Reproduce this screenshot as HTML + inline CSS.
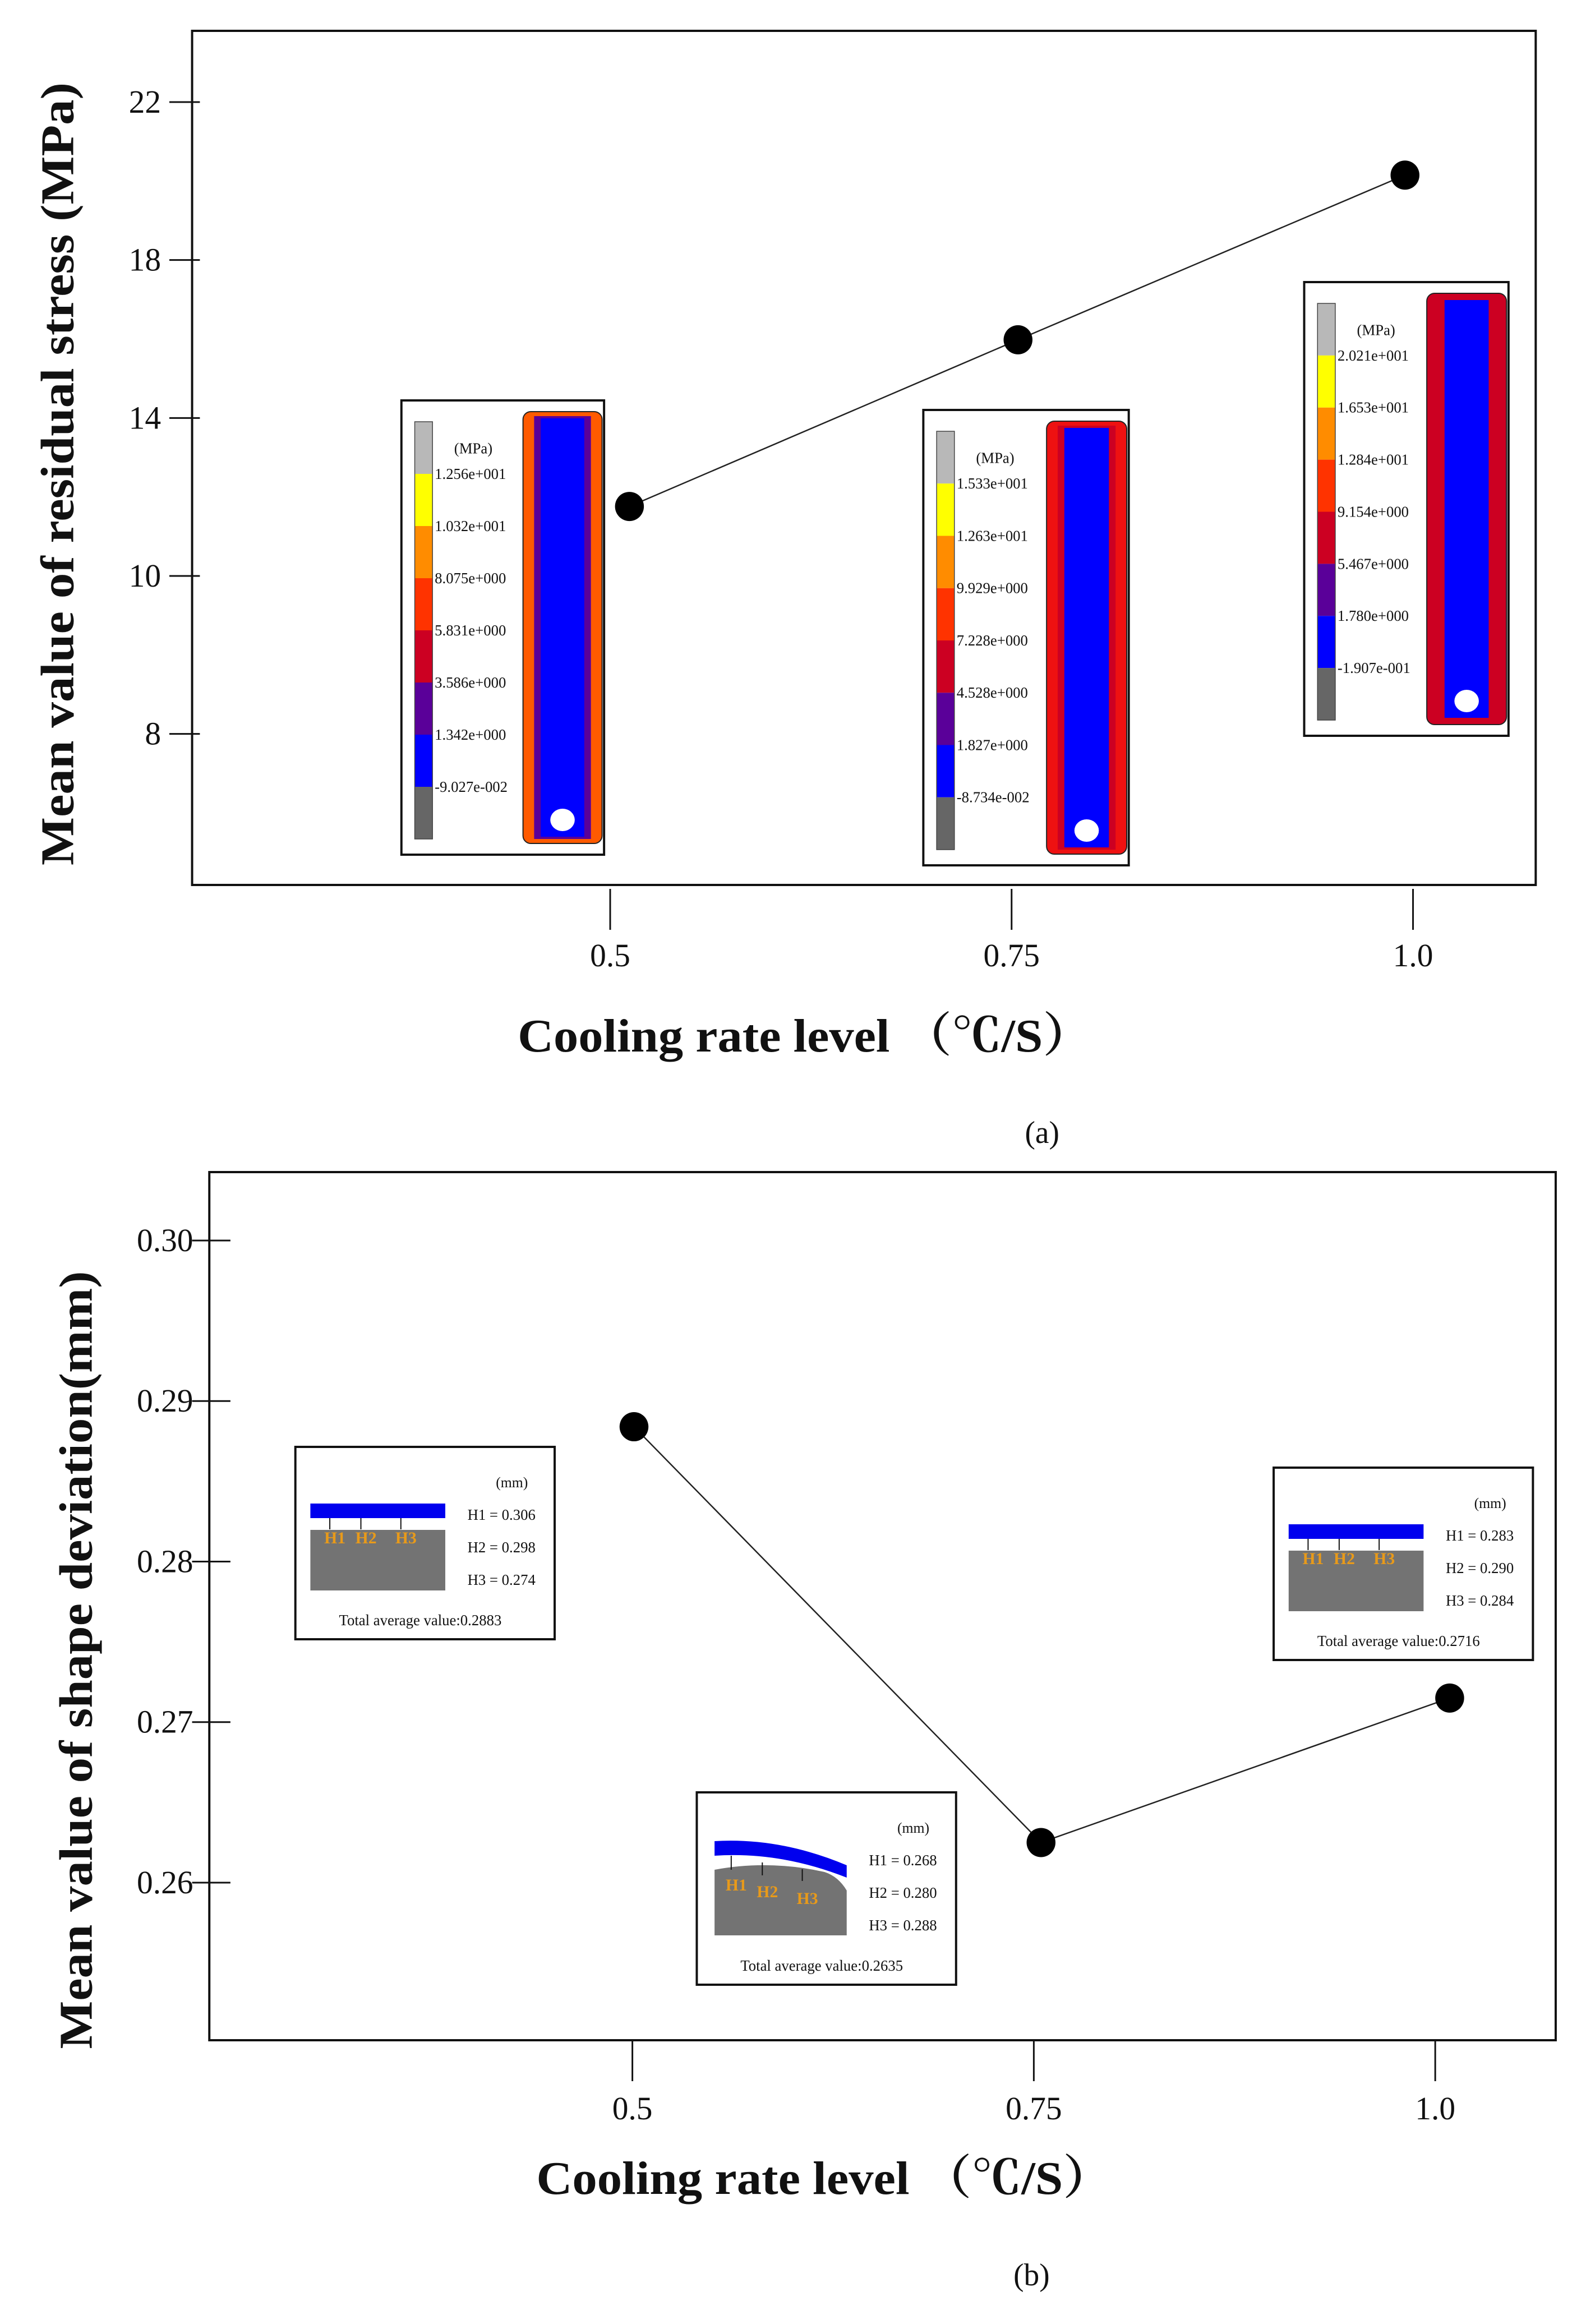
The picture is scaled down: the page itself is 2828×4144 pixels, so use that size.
<!DOCTYPE html>
<html><head><meta charset="utf-8"><style>
html,body{margin:0;padding:0;background:#fff;}
svg{display:block;}
text{font-family:"Liberation Serif",serif;fill:#111;}
</style></head><body>
<svg id="fig" xmlns="http://www.w3.org/2000/svg" width="2828" height="4144" viewBox="0 0 2828 4144">
<rect x="0" y="0" width="2828" height="4144" fill="#fff"/>
<g transform="scale(0.99,1)">
<g id="chartA"></g>
<g id="chartB"></g>
<text x="1877" y="2038" font-size="56" text-anchor="middle">(a)</text>
<text x="1858" y="4075" font-size="56" text-anchor="middle">(b)</text>
</g>
</svg>
<script>
// ---- Chart A data ----
const catsA = [0.512, 0.754, 0.995];
const stressA = [11.76, 15.98, 20.15];
const yTickValsA = [22, 18, 14, 10, 6];
const yTickLabelsA = ["22", "18", "14", "10", "8"];
const xTickValsA = [0.5, 0.75, 1.0];
const xTickLabelsA = ["0.5", "0.75", "1.0"];
// ---- Chart B data ----
const catsB = [0.501, 0.7545, 1.009];
const devB = [0.2884, 0.2625, 0.2715];
const yTickValsB = [0.30, 0.29, 0.28, 0.27, 0.26];
const yTickLabelsB = ["0.30", "0.29", "0.28", "0.27", "0.26"];
const xTickValsB = [0.5, 0.75, 1.0];
const xTickLabelsB = ["0.5", "0.75", "1.0"];
const legendA1 = ["1.256e+001","1.032e+001","8.075e+000","5.831e+000","3.586e+000","1.342e+000","-9.027e-002"];
const legendA2 = ["1.533e+001","1.263e+001","9.929e+000","7.228e+000","4.528e+000","1.827e+000","-8.734e-002"];
const legendA3 = ["2.021e+001","1.653e+001","1.284e+001","9.154e+000","5.467e+000","1.780e+000","-1.907e-001"];
const hB1 = ["0.306","0.298","0.274"], avgB1 = "0.2883";
const hB2 = ["0.268","0.280","0.288"], avgB2 = "0.2635";
const hB3 = ["0.283","0.290","0.284"], avgB3 = "0.2716";

const NS = "http://www.w3.org/2000/svg";
function mk(tag, attrs, parent, txt){
  const e = document.createElementNS(NS, tag);
  for (const k in attrs) e.setAttribute(k, attrs[k]);
  if (txt !== undefined) e.textContent = txt;
  parent.appendChild(e);
  return e;
}
function linScale(d0, d1, r0, r1){ return v => r0 + (v - d0) * (r1 - r0) / (d1 - d0); }

function drawChart(g, cfg){
  const xs = linScale(0.5, 1.0, cfg.x05, cfg.x10);
  const ys = linScale(cfg.yv0, cfg.yv1, cfg.yp0, cfg.yp1);
  const frame = mk('rect', {x:cfg.L, y:cfg.T, width:cfg.R-cfg.L, height:cfg.B-cfg.T, fill:'none', stroke:'#111', 'stroke-width':4}, g);
  
  
  cfg.yTicks.forEach((v,i)=>{
    const y = ys(v);
    const t = mk('line', {x1:cfg.tickX0, x2:cfg.tickX1, y1:y, y2:y, stroke:'#111', 'stroke-width':3}, g);
    
    
    const l = mk('text', {x:cfg.tickLabelX, y:y+19, 'font-size':58, 'text-anchor':'end'}, g, cfg.yLabels[i]);
    
    
  });
  cfg.xTicks.forEach((v,i)=>{
    const x = xs(v);
    const t = mk('line', {x1:x, x2:x, y1:cfg.xt0, y2:cfg.xt1, stroke:'#111', 'stroke-width':3}, g);
    
    
    const l = mk('text', {x:x, y:cfg.xLabelY, 'font-size':58, 'text-anchor':'middle'}, g, cfg.xLabels[i]);
    
    
  });
  const xt = mk('text', {x:cfg.xTitleX, y:cfg.xTitleY, 'font-size':84, 'font-weight':'bold', 'text-anchor':'middle', textLength:cfg.xTitleLen, lengthAdjust:'spacingAndGlyphs', style:'font-family:"Liberation Serif","Noto Serif CJK SC",serif'}, g, 'Cooling  rate level （℃/S）');
  
  
  const yt = mk('text', {x:0, y:0, 'font-size':84, 'font-weight':'bold', 'text-anchor':'middle', textLength:cfg.yTitleLen, lengthAdjust:'spacingAndGlyphs', transform:`translate(${cfg.yTitleX},${cfg.yTitleY}) rotate(-90)`}, g, cfg.yTitle);
  
  
  cfg.insets();
  const pts = cfg.cats.map((c,i)=>[xs(c), ys(cfg.vals[i])]);
  const line = mk('polyline', {points:pts.map(p=>p.join(',')).join(' '), fill:'none', stroke:'#222', 'stroke-width':2.5}, g);
  
  
  pts.forEach(p=>{
    const c = mk('circle', {cx:p[0], cy:p[1], r:26, fill:'#000'}, g);
    
    
  });
}

const barColors = ['#b8b8b8','#ffff00','#ff8c00','#ff3300','#cc0022','#5a0099','#0000ff','#666666'];
function stressInset(g, x, y, w, h, labels, edge, inner, name){
  const gi = mk('g', {transform:`translate(${x},${y})`}, g);
  
  
  mk('rect', {x:0, y:0, width:w, height:h, fill:'#fff', stroke:'#111', 'stroke-width':4}, gi);
  const cb0 = 38, cb1 = h-28, seg = (cb1-cb0)/8;
  barColors.forEach((c,i)=> mk('rect', {x:24, y:cb0+i*seg, width:32, height:seg, fill:c}, gi));
  mk('rect', {x:24, y:cb0, width:32, height:cb1-cb0, fill:'none', stroke:'#444', 'stroke-width':1.5}, gi);
  mk('text', {x:95, y:cb0+seg*0.5+10, 'font-size':27}, gi, '(MPa)');
  labels.forEach((l,i)=> mk('text', {x:60, y:cb0+seg*(i+1)+9, 'font-size':27}, gi, l));
  const cx0 = w*0.6, cw = w*0.39, cy0 = 20, ch = h-40;
  mk('rect', {x:cx0, y:cy0, width:cw, height:ch, rx:14, fill:edge, stroke:'#222', 'stroke-width':2}, gi);
  mk('rect', {x:cx0+20, y:cy0+8, width:cw-40, height:ch-16, fill:inner}, gi);
  mk('rect', {x:cx0+32, y:cy0+12, width:cw-64, height:ch-24, fill:'#0000ff'}, gi);
  mk('ellipse', {cx:cx0+cw*0.5, cy:cy0+ch-42, rx:22, ry:20, fill:'#fff'}, gi);
}

function shapeInset(g, x, y, hv, avg, curved, name){
  const gi = mk('g', {transform:`translate(${x},${y})`}, g);
  
  
  mk('rect', {x:0, y:0, width:467, height:343, fill:'#fff', stroke:'#111', 'stroke-width':4}, gi);
  if (curved){
    mk('path', {d:'M32,138 L32,255 L270,255 L270,175 Q255,150 230,142 Q130,120 32,138 Z', fill:'#737373'}, gi);
    mk('path', {d:'M32,87 Q150,80 270,130 L270,152 Q150,105 32,113 Z', fill:'#0000ee'}, gi);
  } else {
    mk('rect', {x:27, y:148, width:243, height:108, fill:'#737373'}, gi);
    mk('rect', {x:27, y:101, width:243, height:26, fill:'#0000ee'}, gi);
  }
  const hx = [52, 108, 180];
  hx.forEach((px,i)=>{
    mk('line', {x1:px+10, x2:px+10, y1:curved?(113+i*12):127, y2:curved?(138+i*10):147, stroke:'#111', 'stroke-width':2}, gi);
    mk('text', {x:px, y:curved?(175+i*12):172, 'font-size':30, 'font-weight':'bold', style:'fill:#e89a1a'}, gi, 'H'+(i+1));
  });
  mk('text', {x:390, y:72, 'font-size':26, 'text-anchor':'middle'}, gi, '(mm)');
  hv.forEach((v,i)=> mk('text', {x:310, y:130+i*58, 'font-size':27}, gi, 'H'+(i+1)+' = '+v));
  mk('text', {x:225, y:318, 'font-size':27, 'text-anchor':'middle'}, gi, 'Total average value:'+avg);
}

const gA = document.getElementById('chartA');
drawChart(gA, {
  L:346, T:55, R:2766, B:1578,
  x05:1099, x10:2545, yv0:22, yv1:10, yp0:182, yp1:1027,
  yTicks:yTickValsA, yLabels:yTickLabelsA, xTicks:xTickValsA, xLabels:xTickLabelsA,
  tickX0:305, tickX1:360, tickLabelX:290,
  xt0:1585, xt1:1658, xLabelY:1723,
  xTitleX:1450, xTitleY:1875, xTitleLen:1035,
  yTitleX:132, yTitleY:845, yTitleLen:1396, yTitle:'Mean value of residual stress (MPa)',
  cats:catsA, vals:stressA,
  insets:()=>{
    stressInset(gA, 723, 714, 365, 810, legendA1, '#ff5a00', '#5a0099', 'stress-contour-inset-0.5');
    stressInset(gA, 1663, 731, 370, 812, legendA2, '#ee1111', '#cc0022', 'stress-contour-inset-0.75');
    stressInset(gA, 2349, 503, 368, 809, legendA3, '#cc0022', '#cc0022', 'stress-contour-inset-1.0');
  }
});

const gB = document.getElementById('chartB');
drawChart(gB, {
  L:377, T:2090, R:2802, B:3638,
  x05:1139, x10:2585, yv0:0.30, yv1:0.26, yp0:2212, yp1:3357,
  yTicks:yTickValsB, yLabels:yTickLabelsB, xTicks:xTickValsB, xLabels:xTickLabelsB,
  tickX0:346, tickX1:415, tickLabelX:348,
  xt0:3640, xt1:3711, xLabelY:3779,
  xTitleX:1485, xTitleY:3912, xTitleLen:1038,
  yTitleX:165, yTitleY:2960, yTitleLen:1387, yTitle:'Mean value of shape deviation(mm)',
  cats:catsB, vals:devB,
  insets:()=>{
    shapeInset(gB, 532, 2580, hB1, avgB1, false, 'shape-inset-0.5');
    shapeInset(gB, 1255, 3196, hB2, avgB2, true, 'shape-inset-0.75');
    shapeInset(gB, 2294, 2617, hB3, avgB3, false, 'shape-inset-1.0');
  }
});
</script>
</body></html>
